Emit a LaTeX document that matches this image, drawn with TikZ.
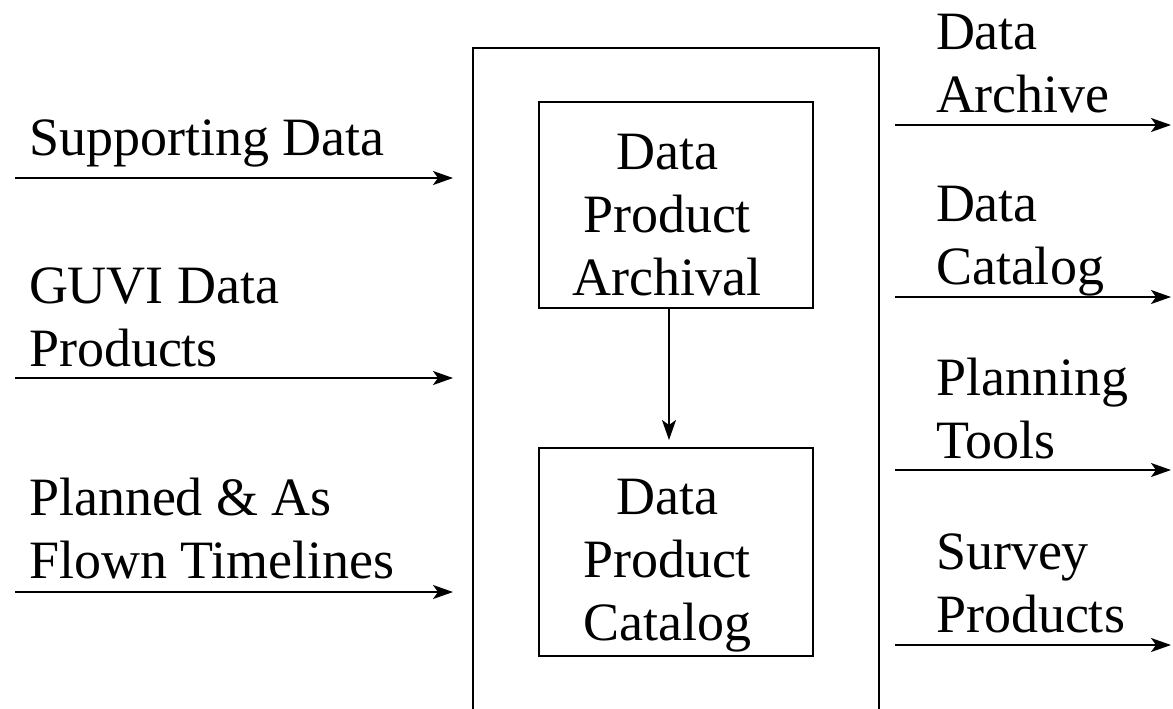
\documentclass[tikz,border=0pt]{standalone}
\usepackage{fontspec}
\setmainfont{Liberation Serif}
\usetikzlibrary{arrows.meta}
\begin{document}
\begin{tikzpicture}[x=0.5pt,y=-0.5pt,
  line width=1pt,
  flow/.style={-{Stealth[length=10pt,width=7pt,inset=2.5pt]}},
  lbl/.style={inner sep=0pt,font=\fontsize{27}{31.5}\selectfont,align=left,anchor=base west},
  boxlbl/.style={inner sep=0pt,font=\fontsize{27}{31.5}\selectfont,align=center,anchor=base},
  frame/.style={draw,rectangle,inner sep=0pt}]
\useasboundingbox (0,0) rectangle (1173,708);

% enclosing system box, open at the bottom of the page
\node[frame,minimum width=203pt,minimum height=400pt,anchor=north west] (sys) at (472,47) {};

% inner processing boxes (text anchored at the baseline of its last line)
\node[frame,minimum width=137pt,minimum height=103pt,anchor=north west] (arch) at (538,101) {};
\node[frame,minimum width=137pt,minimum height=104pt,anchor=north west] (cat) at (538,447) {};
\node[boxlbl] (archtxt) at (667,295) {Data\\Product\\Archival};
\node[boxlbl] (cattxt) at (667,640) {Data\\Product\\Catalog};
\draw[flow] ([xshift=-3.5pt]arch.south) -- ([xshift=-3.5pt,yshift=3.5pt]cat.north);

% inputs
\node[lbl] (l1) at (28,155) {Supporting Data};
\node[lbl] (l2) at (28,366) {GUVI Data\\Products};
\node[lbl] (l3) at (28,578) {Planned \& As\\Flown Timelines};
\coordinate (i1) at (15,178);
\coordinate (i2) at (15,378);
\coordinate (i3) at (15,592);
\draw[flow] (i1) -- ([xshift=-9.5pt]sys.west |- i1);
\draw[flow] (i2) -- ([xshift=-9.5pt]sys.west |- i2);
\draw[flow] (i3) -- ([xshift=-9.5pt]sys.west |- i3);

% outputs
\node[lbl] (r1) at (935,112) {Data\\Archive};
\node[lbl] (r2) at (935,284) {Data\\Catalog};
\node[lbl] (r3) at (935,458) {Planning\\Tools};
\node[lbl] (r4) at (935,632) {Survey\\Products};
\coordinate (o1) at (1171,125);
\coordinate (o2) at (1171,297);
\coordinate (o3) at (1171,470);
\coordinate (o4) at (1171,645);
\draw[flow] ([xshift=7.5pt]sys.east |- o1) -- (o1);
\draw[flow] ([xshift=7.5pt]sys.east |- o2) -- (o2);
\draw[flow] ([xshift=7.5pt]sys.east |- o3) -- (o3);
\draw[flow] ([xshift=7.5pt]sys.east |- o4) -- (o4);
\end{tikzpicture}
\end{document}
